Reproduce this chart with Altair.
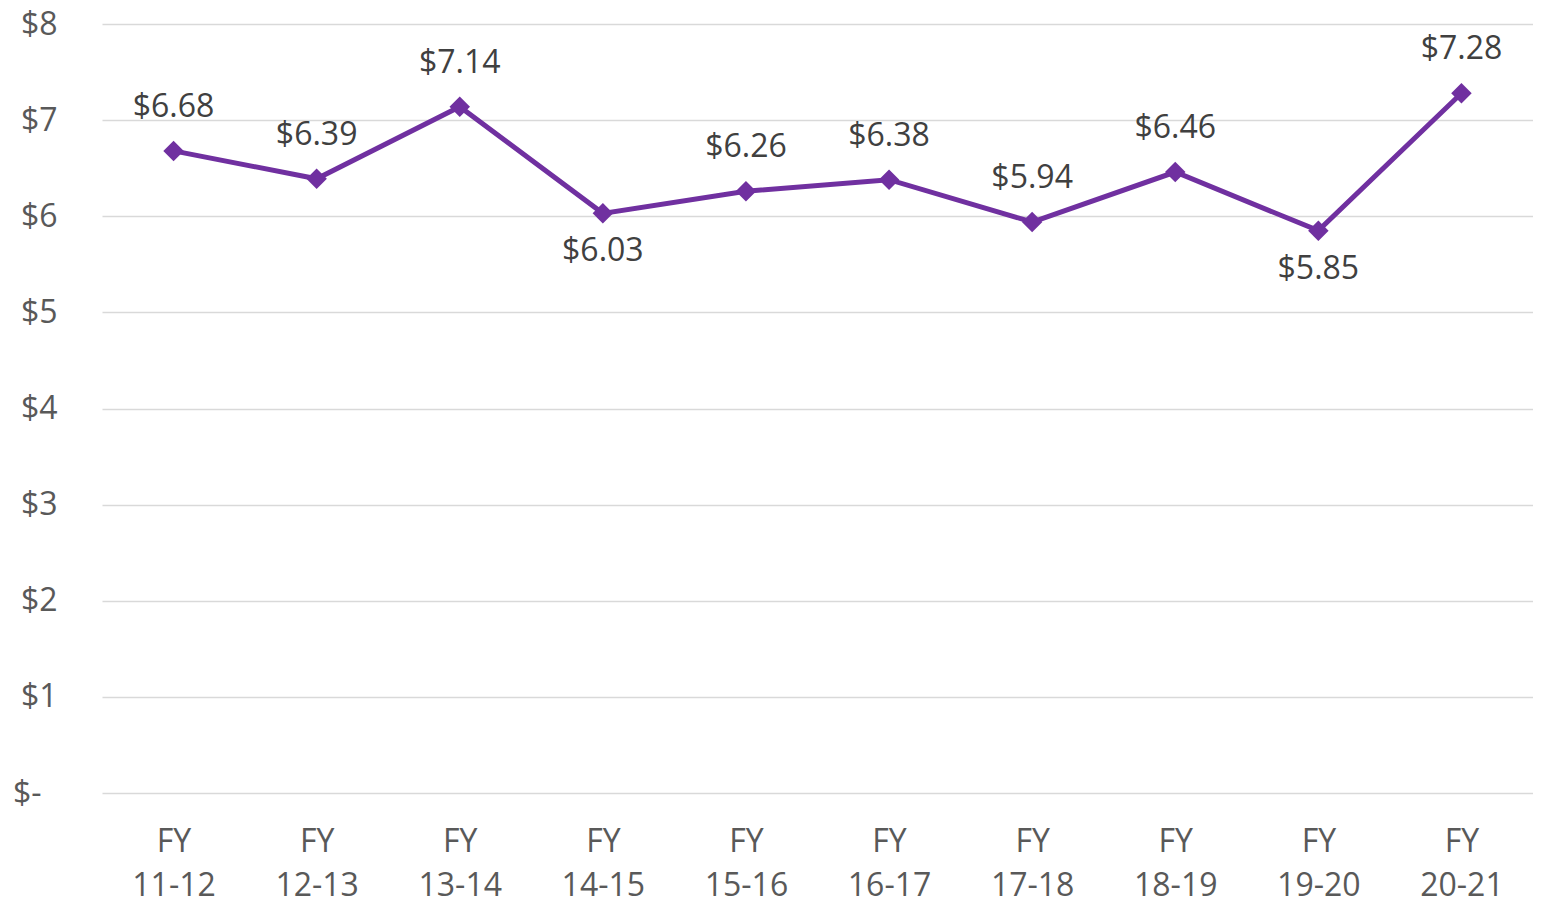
import altair as alt
import pandas as pd

years = ["FY\n11-12", "FY\n12-13", "FY\n13-14", "FY\n14-15", "FY\n15-16",
         "FY\n16-17", "FY\n17-18", "FY\n18-19", "FY\n19-20", "FY\n20-21"]
values = [6.68, 6.39, 7.14, 6.03, 6.26, 6.38, 5.94, 6.46, 5.85, 7.28]
label_side = ["above", "above", "above", "below", "above",
              "above", "above", "above", "below", "above"]

df = pd.DataFrame({"year": years, "value": values, "side": label_side})
df["label"] = ["$" + f"{v:.2f}" for v in values]

FONT = "Open Sans"
PURPLE = "#7030A0"

x_enc = alt.X("year:N", sort=years, scale=alt.Scale(type="point", padding=0.5),
              axis=alt.Axis(title=None, labelExpr="split(datum.label, '\\n')",
                            labelAngle=0, labelFont=FONT, labelFontSize=32,
                            labelColor="#595959", labelLineHeight=44,
                            labelPadding=33, ticks=False, domain=False, grid=False))
y_enc = alt.Y("value:Q", scale=alt.Scale(domain=[0, 8], nice=False),
              axis=alt.Axis(title=None, values=[0, 1, 2, 3, 4, 5, 6, 7, 8],
                            labelExpr="datum.value == 0 ? '$-' : '$' + datum.value",
                            labelFont=FONT, labelFontSize=32, labelColor="#595959",
                            labelPadding={"condition": {"test": "datum.value === 0", "value": 61},
                                          "value": 45},
                            ticks=False, domain=False,
                            gridColor="#d9d9d9", gridWidth=1.6, labelAlign="right"))

base = alt.Chart(df)

line = base.mark_line(color=PURPLE, strokeWidth=5).encode(x=x_enc, y=y_enc)
pts = base.mark_point(shape="diamond", filled=True, size=420, color=PURPLE, opacity=1).encode(x=x_enc, y=y_enc)

above = base.transform_filter(alt.datum.side == "above").mark_text(
    font=FONT, fontSize=32, color="#404040", baseline="middle", dy=-44
).encode(x=x_enc, y=y_enc, text="label:N")
below = base.transform_filter(alt.datum.side == "below").mark_text(
    font=FONT, fontSize=32, color="#404040", baseline="middle", dy=38
).encode(x=x_enc, y=y_enc, text="label:N")

chart = (
    alt.layer(line, pts, above, below)
    .properties(
        width=1431, height=769,
        autosize=alt.AutoSizeParams(type="none"),
        padding={"left": 94, "right": 0, "top": 16, "bottom": 109},
        view=alt.ViewBackground(stroke="transparent", strokeWidth=0, strokeOpacity=0),
    )
    .configure_view(stroke="transparent", strokeWidth=0, strokeOpacity=0)
    .configure_axis(domain=False, domainColor="transparent", domainOpacity=0,
                    domainWidth=0, ticks=False)
    .configure_axisX(grid=False)
    .configure(background="white")
)

chart.save("out.html", embed_options={"renderer": "svg", "actions": False})
